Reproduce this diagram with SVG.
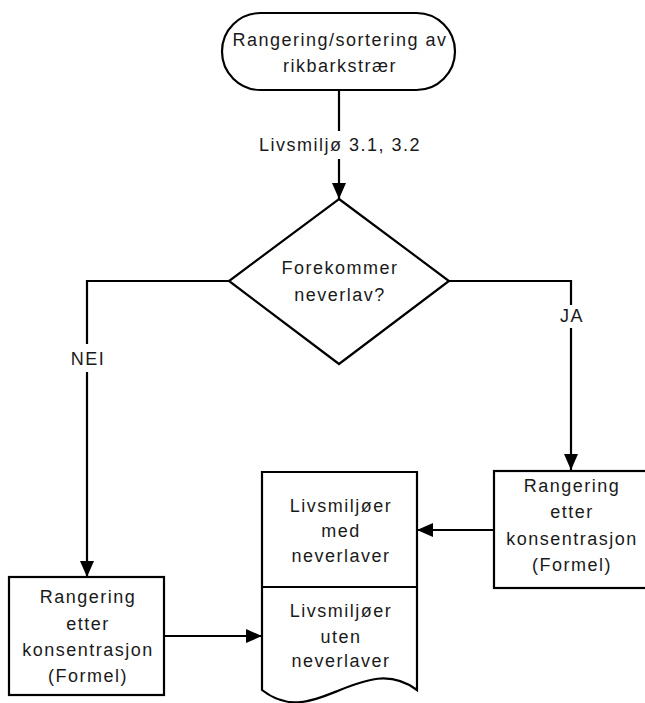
<svg xmlns="http://www.w3.org/2000/svg" width="645" height="703" viewBox="0 0 645 703">
<style>
.s{fill:#fff;stroke:#000;stroke-width:2.2}
.c{fill:none;stroke:#000;stroke-width:2.2}
.t{font-family:"Liberation Sans",Arial,sans-serif;font-size:18px;letter-spacing:1.5px;fill:#1a1a1a;text-anchor:middle}
.bg{fill:#fff}
</style>
<defs>
<marker id="a" markerUnits="userSpaceOnUse" markerWidth="16" markerHeight="14" refX="16" refY="7" orient="auto">
<path d="M0,0 L16,7 L0,14 z" fill="#000"/>
</marker>
</defs>
<rect width="645" height="703" fill="#fff"/>
<g id="connectors">
<path class="c" d="M339,90 V199" marker-end="url(#a)"/>
<path class="c" d="M229,281 H87 V577" marker-end="url(#a)"/>
<path class="c" d="M449,281 H571 V470" marker-end="url(#a)"/>
<path class="c" d="M494,530 H417" marker-end="url(#a)"/>
<path class="c" d="M164,636 H262" marker-end="url(#a)"/>
<rect class="bg" x="250" y="131" width="180" height="28"/>
<text class="t" x="340" y="151">Livsmiljø 3.1, 3.2</text>
<rect class="bg" x="64" y="344" width="46" height="28"/>
<text class="t" x="88" y="365">NEI</text>
<rect class="bg" x="555" y="305" width="34" height="23"/>
<text class="t" x="572" y="322">JA</text>
</g>
<g id="start">
<rect class="s" x="222" y="13" width="233" height="77" rx="38.5"/>
<text class="t" x="340" y="46">Rangering/sortering av</text>
<text class="t" x="340" y="72">rikbarkstrær</text>
</g>
<g id="decision">
<path class="s" d="M339,199 L449,281 L339,364 L229,281 z"/>
<text class="t" x="340" y="274">Forekommer</text>
<text class="t" x="340" y="301">neverlav?</text>
</g>
<g id="rank-right">
<rect class="s" x="494" y="471" width="154" height="117"/>
<text class="t" x="572" y="492">Rangering</text>
<text class="t" x="572" y="518">etter</text>
<text class="t" x="572" y="545">konsentrasjon</text>
<text class="t" x="572" y="571">(Formel)</text>
</g>
<g id="rank-left">
<rect class="s" x="9" y="577" width="155" height="118"/>
<text class="t" x="88" y="603">Rangering</text>
<text class="t" x="88" y="630">etter</text>
<text class="t" x="88" y="656">konsentrasjon</text>
<text class="t" x="88" y="682">(Formel)</text>
</g>
<g id="document">
<path class="s" d="M262,472 H417 V690 C390,670 365,680 340,690 C315,700 290,712 262,690 z"/>
<path class="c" d="M262,587 H417"/>
<text class="t" x="341" y="512">Livsmiljøer</text>
<text class="t" x="341" y="537">med</text>
<text class="t" x="341" y="562">neverlaver</text>
<text class="t" x="341" y="617">Livsmiljøer</text>
<text class="t" x="341" y="643">uten</text>
<text class="t" x="341" y="667">neverlaver</text>
</g>
</svg>
